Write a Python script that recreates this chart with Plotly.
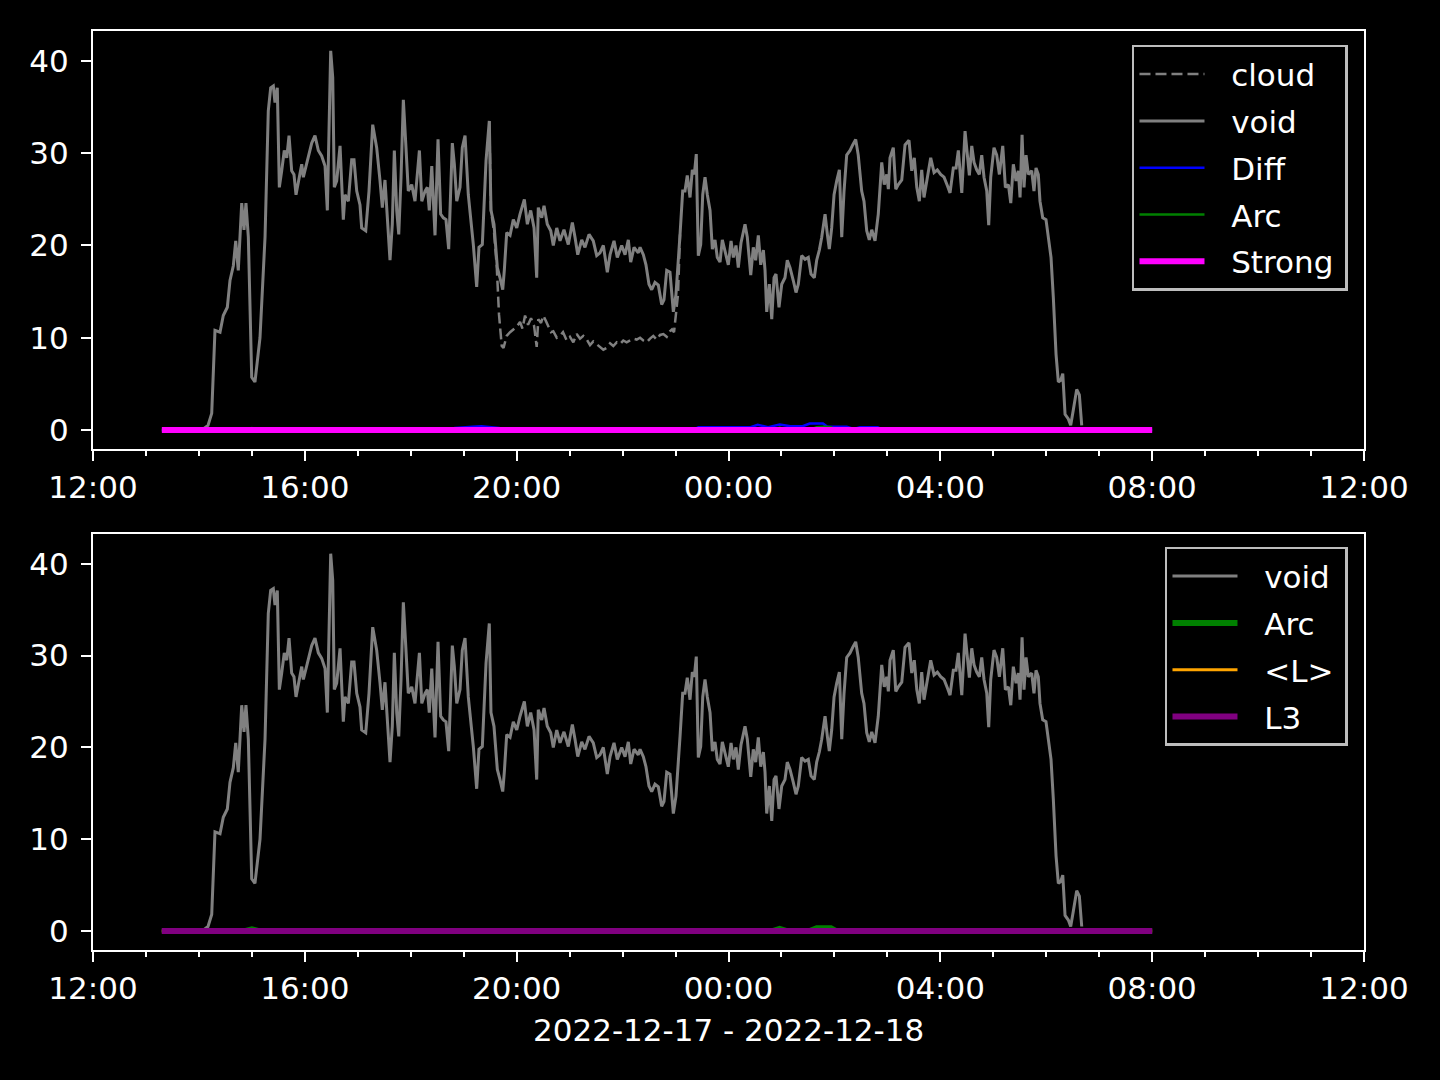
import pandas as pd
import plotly.graph_objects as go

BASE = pd.Timestamp("2022-12-17 12:00")

# ---- data (minutes after 2022-12-17 12:00, values) ----
void_min = [78, 125, 130.3, 134.5, 138.2, 143.9, 147.6, 152.2, 155.2, 159.0, 161.7, 164.6, 168.5, 171.1, 173.3,
            176.0, 179.8, 183.5, 189.2, 194.9, 198.6, 201.3, 204.3, 206.2, 208.8, 211.1, 213.8, 216.7, 219.5,
            222.1, 225.1, 227.7, 230.0, 232.6, 236.5, 238.3, 243.9, 247.8, 251.5, 255.3, 259.1, 262.9, 265.5,
            267.7, 269.3, 271.6, 273.4, 276.1, 279.9, 283.6, 285.5, 289.3, 293.1, 295.7, 298.8, 302.5, 304.4,
            309.0, 312.7, 316.9, 321.4, 325.2, 327.8, 330.8, 333.4, 336.5, 339.1, 341.4, 344.1, 346.4, 349.0,
            351.6, 354.6, 357.2, 361.1, 364.8, 369.8, 372.5, 376.2, 378.8, 381.0, 383.8, 387.5, 390.9, 393.9,
            396.9, 399.9, 403.0, 407.1, 409.4, 412.1, 415.8, 418.4, 421.5, 425.2, 430.9, 434.7, 437.3, 441.1,
            445.3, 449.0, 450.9, 454.3, 458.1, 461.1, 464.2, 466.0, 468.7, 472.5, 476.2, 480.1, 483.8, 488.7,
            492.1, 495.9, 499.7, 502.7, 504.5, 508.4, 511.0, 514.7, 518.6, 521.5, 525.4, 529.1, 533.6, 538.5,
            543.1, 546.1, 549.2, 553.7, 557.4, 562.0, 566.8, 570.7, 574.4, 578.2, 582.7, 585.8, 590.3, 594.0,
            599.0, 602.8, 606.5, 609.2, 613.0, 617.8, 619.8, 623.5, 626.5, 629.9, 633.0, 636.7, 640.5, 644.3,
            646.9, 650.0, 653.7, 657.5, 660.5, 665.1, 668.1, 670.7, 673.3, 676.4, 679.0, 681.3, 683.5, 685.8,
            688.5, 690.8, 693.4, 696.0, 699.1, 701.7, 704.7, 707.3, 710.4, 713.0, 716.0, 719.8, 722.9, 725.5,
            728.5, 731.1, 734.2, 738.7, 741.3, 745.2, 748.1, 750.8, 753.8, 756.5, 759.5, 761.4, 763.3, 766.3,
            769.0, 771.6, 773.8, 777.2, 780.3, 784.0, 786.6, 789.7, 793.4, 796.5, 799.1, 802.9, 806.7, 810.4,
            813.5, 817.2, 819.9, 822.9, 825.6, 829.4, 832.0, 834.2, 836.9, 839.6, 842.6, 845.6, 848.3, 850.9,
            853.9, 857.7, 860.7, 864.1, 867.0, 870.9, 873.5, 876.6, 879.5, 882.3, 886.0, 889.7, 893.6, 896.5,
            899.3, 901.1, 903.0, 906.7, 909.5, 912.4, 916.3, 920.0, 924.5, 927.6, 930.5, 933.3, 936.2, 938.9,
            941.5, 945.3, 949.1, 952.9, 956.6, 960.4, 964.2, 967.9, 971.0, 974.7, 977.8, 980.4, 984.3, 988.0,
            990.6, 992.9, 995.6, 998.2, 1001.2, 1004.2, 1006.9, 1009.5, 1012.6, 1014.8, 1017.1, 1020.8, 1023.9,
            1026.9, 1030.7, 1033.7, 1037.1, 1039.8, 1042.7, 1045.8, 1048.4, 1050.3, 1052.6, 1054.8, 1057.1,
            1059.7, 1063.5, 1066.1, 1068.4, 1071.0, 1072.9, 1076.0, 1079.7, 1082.3, 1085.4, 1088.0, 1091.1,
            1093.7, 1096.4, 1098.7, 1101.3, 1105.0, 1107.7, 1110.7, 1114.5, 1117.5, 1120.2]
void_val = [0.0, 0.1, 0.5, 1.8, 10.8, 10.6, 12.4, 13.3, 16.2, 17.8, 20.5, 17.3, 24.6, 21.7, 24.6,
            20.9, 5.7, 5.2, 10.0, 20.9, 34.6, 37.1, 37.3, 35.5, 37.1, 26.3, 28.1, 30.3, 29.5,
            31.9, 28.1, 27.7, 25.5, 27.0, 28.8, 27.4, 29.5, 31.1, 31.9, 30.3, 29.7, 28.6, 23.8,
            35.2, 41.1, 38.2, 26.3, 27.0, 30.8, 22.8, 25.5, 24.8, 29.3, 29.3, 25.9, 24.4, 21.9,
            21.6, 25.9, 33.1, 30.6, 27.0, 24.1, 27.1, 23.0, 18.4, 22.3, 30.3, 23.8, 21.2, 27.4,
            35.8, 30.6, 25.9, 26.6, 24.8, 30.3, 24.8, 25.9, 26.3, 23.8, 28.6, 21.1, 31.5, 23.4,
            23.0, 22.8, 19.6, 31.1, 28.8, 24.8, 26.3, 30.6, 31.9, 25.5, 20.1, 15.5, 19.8, 20.1,
            29.2, 33.5, 23.8, 22.3, 17.6, 16.5, 15.2, 17.3, 21.4, 21.1, 22.8, 21.9, 23.4, 25.0,
            22.3, 23.8, 21.9, 16.5, 24.1, 23.0, 24.3, 22.3, 21.6, 20.0, 21.9, 20.5, 21.7, 20.1,
            22.5, 20.9, 19.0, 20.6, 19.8, 21.2, 20.5, 18.9, 19.2, 20.0, 17.1, 19.0, 20.5, 18.7,
            20.0, 19.0, 20.6, 18.2, 19.8, 19.2, 19.8, 19.0, 17.9, 15.8, 15.2, 16.0, 15.7, 13.6,
            14.1, 17.3, 17.1, 12.8, 14.7, 21.2, 25.9, 25.9, 27.6, 25.2, 28.2, 27.7, 29.9, 18.9,
            20.1, 25.5, 27.4, 25.5, 23.8, 19.6, 20.6, 18.7, 18.2, 20.6, 19.5, 17.9, 20.5, 18.7,
            20.0, 17.6, 20.3, 22.3, 20.9, 16.8, 19.8, 18.4, 21.1, 17.9, 19.5, 17.3, 12.8, 15.8,
            12.0, 16.5, 16.9, 13.3, 15.8, 16.5, 18.4, 17.6, 16.2, 14.9, 15.8, 18.9, 18.5, 18.7,
            16.9, 16.5, 18.4, 19.5, 20.9, 23.4, 21.2, 19.6, 21.9, 25.5, 27.0, 28.2, 20.9, 25.9,
            29.8, 30.3, 30.9, 31.5, 29.8, 25.9, 24.8, 21.6, 20.6, 21.7, 20.5, 23.4, 29.0, 26.6,
            27.7, 26.1, 29.5, 30.6, 26.1, 26.6, 27.1, 30.9, 31.4, 28.1, 29.5, 26.3, 24.8, 28.2,
            25.2, 27.4, 29.5, 27.9, 28.2, 27.7, 27.4, 26.5, 25.7, 28.4, 28.4, 30.3, 25.7, 32.4,
            29.8, 27.6, 30.8, 29.0, 28.2, 27.7, 29.8, 27.4, 25.9, 22.2, 27.4, 30.6, 29.8,
            27.7, 30.8, 26.3, 26.6, 24.6, 28.8, 27.0, 28.1, 25.2, 32.0, 26.3, 29.8,
            27.7, 28.1, 25.9, 28.4, 27.7, 24.8, 23.0, 22.8, 20.9, 18.7, 14.4, 8.2,
            5.2, 5.4, 6.1, 1.7, 1.2, 0.5, 2.2, 4.4, 3.8, 0.5]

cloud_min = [449.0, 450.9, 454.3, 457.4, 460.0, 463.1, 465.1, 468.7, 472.5, 476.2, 480.1, 483.8, 486.6, 489.5,
             492.9, 496.3, 499.7, 502.7, 504.5, 507.6, 510.2, 513.2, 515.8, 518.9, 521.5, 525.4, 529.1, 532.5,
             536.7, 540.4, 544.2, 548.0, 551.8, 555.5, 559.4, 563.1, 566.8, 570.7, 574.4, 578.2, 582.0, 585.8,
             589.5, 593.3, 597.1, 600.8, 604.6, 608.4, 612.2, 616.0, 619.8, 623.5, 627.3, 631.1, 634.8, 638.7,
             642.4, 646.2, 650.0, 653.7, 656.0, 658.3, 660.5, 662.8, 665.1]
cloud_val = [33.5, 23.8, 21.5, 17.8, 12.5, 9.1, 8.9, 10.2, 10.6, 10.9, 11.2, 11.7, 11.0, 12.4,
             11.4, 12.1, 11.3, 9.0, 12.0, 11.6, 12.4, 11.8, 11.3, 10.6, 10.7, 10.0, 10.2, 10.6,
             9.7, 10.1, 9.5, 10.4, 9.9, 10.2, 9.8, 9.2, 9.6, 9.3, 9.0, 8.7, 8.9, 9.4,
             9.1, 9.5, 9.3, 9.7, 9.5, 9.7, 9.9, 9.8, 10.0, 9.7, 9.5, 9.9, 10.2, 9.8,
             10.3, 10.4, 10.1, 10.7, 10.9, 10.6, 12.5, 14.7, 21.2]

diff_min = [78, 400, 410, 420, 430, 440, 450, 460, 470, 680, 686, 700, 722, 745, 753, 765, 778, 790,
            804, 812, 820, 827, 832, 854, 862, 869, 889, 895, 1200]
diff_val = [0.0, 0.0, 0.2, 0.3, 0.35, 0.4, 0.3, 0.2, 0.0, 0.0, 0.3, 0.3, 0.3, 0.3, 0.55, 0.3, 0.6, 0.4,
            0.4, 0.7, 0.7, 0.7, 0.35, 0.35, 0.1, 0.3, 0.3, 0.0, 0.0]

arc_min = [78, 172, 180, 188, 770, 778, 786, 812, 820, 828, 836, 842, 1200]
arc_val = [0.0, 0.0, 0.2, 0.0, 0.0, 0.25, 0.0, 0.0, 0.3, 0.35, 0.3, 0.0, 0.0]

flat_min = [78, 1200]
strong_val = [0.0, 0.0]
meanL_val = [0.0, 0.0]
l3_val = [0.0, 0.0]

xticks_min = [0, 240, 480, 720, 960, 1200, 1440]
xlabel = "2022-12-17 - 2022-12-18"


def tt(mins):
    return BASE + pd.to_timedelta(pd.Series(mins, dtype=float), unit="min")


GRAY = "#808080"
FONT = "DejaVu Sans"
FS = 31
PAD_L = "\u2002\u2009"
PAD_R = "\u2009"

fig = go.Figure()


def add(x, y, name, color, width, ax, leg, grp, dash=None):
    fig.add_trace(go.Scatter(x=tt(x), y=y, mode="lines", name=PAD_L + name + PAD_R, legendgroup=grp,
                             line=dict(color=color, width=width, dash=dash),
                             xaxis="x" + ax, yaxis="y" + ax, legend=leg))


# top panel
add(cloud_min, cloud_val, "cloud", GRAY, 2.5, "", "legend", "t1", dash="11px,5px")
add(void_min, void_val, "void", GRAY, 3, "", "legend", "t2")
add(diff_min, diff_val, "Diff", "#0000ff", 2.5, "", "legend", "t3")
add(arc_min, arc_val, "Arc", "#008000", 2.5, "", "legend", "t4")
add(flat_min, strong_val, "Strong", "#ff00ff", 6, "", "legend", "t5")
# bottom panel
add(void_min, void_val, "void", GRAY, 3, "2", "legend2", "b1")
add(arc_min, arc_val, "Arc", "#008000", 6, "2", "legend2", "b2")
add(flat_min, meanL_val, "<L>", "#ffa500", 3, "2", "legend2", "b3")
add(flat_min, l3_val, "L3", "#800080", 6, "2", "legend2", "b4")

xr = [BASE, BASE + pd.Timedelta(hours=24)]
tickvals = list(tt(xticks_min))
ticktext = [t.strftime("%H:%M") for t in tickvals]

xaxis_common = dict(
    range=xr, tickvals=tickvals, ticktext=ticktext, ticks="outside", ticklen=10, tickwidth=2.2,
    tickcolor="white", showline=True, linecolor="white", linewidth=2.2, mirror=True,
    showgrid=False, zeroline=False, tickfont=dict(family=FONT, size=FS, color="white"),
    minor=dict(dtick=3600000, tick0=BASE, ticks="outside", ticklen=5, tickwidth=2, tickcolor="white", showgrid=False),
)
yaxis_common = dict(
    range=[-2.06, 43.25], tickvals=[0, 10, 20, 30, 40], ticks="outside", ticklen=10, tickwidth=2.2,
    tickcolor="white", showline=True, linecolor="white", linewidth=2.2, mirror=True,
    showgrid=False, zeroline=False, tickfont=dict(family=FONT, size=FS, color="white"),
    ticklabelstandoff=6,
)

legend_common = dict(
    bgcolor="black", bordercolor="#bdbdbd", borderwidth=2.5,
    font=dict(family=FONT, size=FS, color="white"), xanchor="right", yanchor="top",
    tracegroupgap=3.5, itemwidth=65,
)

fig.update_layout(
    width=1440, height=1080,
    paper_bgcolor="black", plot_bgcolor="black",
    margin=dict(l=93, r=76, t=31, b=130),
    font=dict(family=FONT, size=FS, color="white"),
    xaxis=dict(domain=[0, 1], anchor="y", **xaxis_common),
    yaxis=dict(domain=[0.5452, 1.0], anchor="x", **yaxis_common),
    xaxis2=dict(domain=[0, 1], anchor="y2", **xaxis_common),
    yaxis2=dict(domain=[0.0, 0.4527], anchor="x2", **yaxis_common),
    legend=dict(x=0.9874, y=0.9848, **legend_common),
    legend2=dict(x=0.9874, y=0.4386, **legend_common),
    showlegend=True,
    annotations=[dict(text=xlabel, xref="paper", yref="paper", x=0.5, y=-0.087, showarrow=False,
                      xanchor="center", yanchor="middle", font=dict(family=FONT, size=FS, color="white"))],
)

fig.write_html("out.html", config={"displayModeBar": False},
               post_script="document.body.style.margin='0';document.body.style.background='black';")
